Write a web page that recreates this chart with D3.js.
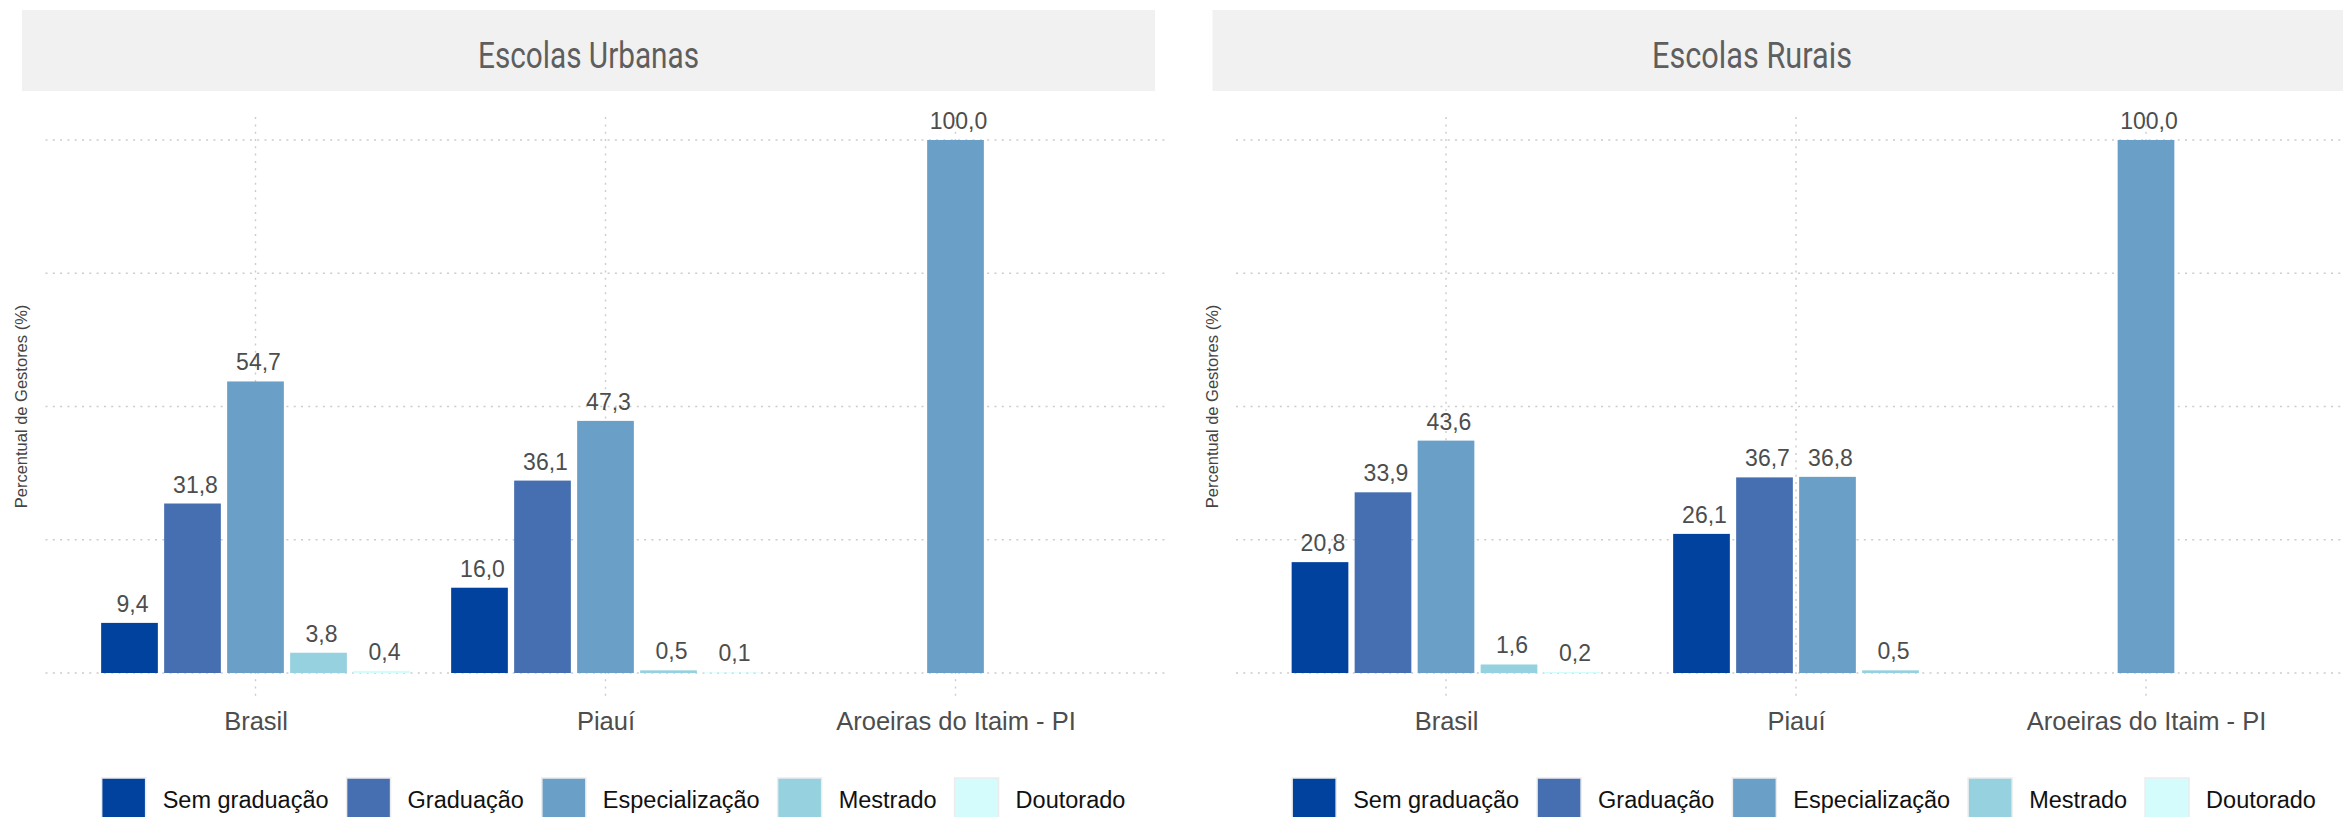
<!DOCTYPE html>
<html><head><meta charset="utf-8">
<script src="https://cdn.jsdelivr.net/npm/d3@7"></script>
<style>
html,body{margin:0;padding:0;background:#fff;}
svg{display:block;}
</style></head>
<body>
<svg id="chart" width="2343" height="817"></svg>
<script>
// ---- data ----
const categories = ["Brasil", "Piauí", "Aroeiras do Itaim - PI"];
const levels = ["Sem graduação", "Graduação", "Especialização", "Mestrado", "Doutorado"];
const levelColors = ["#00429d", "#456fb1", "#6aa0c8", "#96d1df", "#d4fcfc"];
const panelTitles = ["Escolas Urbanas", "Escolas Rurais"];
const yTicks = [0, 25, 50, 75, 100];
// values per category, in the order of levels (null = absent)
const urbanBrasil = [9.4, 31.8, 54.7, 3.8, 0.4];
const urbanPiaui = [16.0, 36.1, 47.3, 0.5, 0.1];
const urbanAroeiras = [null, null, 100.0, null, null];
const ruralBrasil = [20.8, 33.9, 43.6, 1.6, 0.2];
const ruralPiaui = [26.1, 36.7, 36.8, 0.5, null];
const ruralAroeiras = [null, null, 100.0, null, null];
const yAxisTitle = "Percentual de Gestores (%)";

const panelsData = [
  [urbanBrasil, urbanPiaui, urbanAroeiras],
  [ruralBrasil, ruralPiaui, ruralAroeiras]
];

const svg = d3.select("#chart");
const fmt = v => d3.format(".1f")(v).replace(".", ",");

const y = d3.scaleLinear().domain([-5, 105]).range([699.65, 113.35]);
const panelOffsets = [0, 1190.5];
const titleCenters = [588.5, 1752];
const titleLengths = [221, 200];
const legendCenters = [613.5, 1804];

panelsData.forEach((pdata, pi) => {
  const ox = panelOffsets[pi];
  const g = svg.append("g").attr("transform", `translate(${ox},0)`);

  // strip
  g.append("rect").attr("x", 22).attr("y", 10).attr("width", 1133).attr("height", 81)
    .attr("fill", "#f1f1f1");
  svg.append("text").attr("x", titleCenters[pi]).attr("y", 68)
    .attr("text-anchor", "middle")
    .attr("textLength", titleLengths[pi]).attr("lengthAdjust", "spacingAndGlyphs")
    .style("font-family", "Roboto,'Liberation Sans',sans-serif")
    .style("font-weight", 400)
    .style("font-size", "37px").attr("fill", "#5e5e5e")
    .text(panelTitles[pi]);

  const x = d3.scalePoint().domain(categories).range([45.5, 1165.5]).padding(0.6);
  const slot = x.step() * 0.9 / levels.length;
  const barW = slot * 0.9;

  // grid
  const grid = g.append("g");
  grid.selectAll("line.h").data(yTicks).join("line").attr("class", "h")
    .attr("x1", 45.5).attr("x2", 1165.5)
    .attr("y1", d => y(d)).attr("y2", d => y(d))
    .attr("stroke", "#cccccc").attr("stroke-width", 1.4).attr("stroke-dasharray", "2,5.3");
  grid.selectAll("line.v").data(categories).join("line").attr("class", "v")
    .attr("x1", d => x(d)).attr("x2", d => x(d))
    .attr("y1", y(104.3)).attr("y2", y(-5))
    .attr("stroke", "#cccccc").attr("stroke-width", 1.4).attr("stroke-dasharray", "2,5.3");

  // bars
  const bars = [];
  categories.forEach((c, ci) => {
    const vals = pdata[ci];
    const present = vals.map((v, i) => ({v, i})).filter(d => d.v !== null);
    const n = present.length;
    present.forEach((d, k) => {
      const cx = x(c) + (k - (n - 1) / 2) * slot;
      bars.push({cat: c, level: d.i, value: d.v, cx});
    });
  });
  g.append("g").selectAll("rect").data(bars).join("rect")
    .attr("x", d => d.cx - barW / 2).attr("width", barW)
    .attr("y", d => y(d.value)).attr("height", d => y(0) - y(d.value))
    .attr("fill", d => levelColors[d.level]);

  g.append("g").selectAll("text").data(bars).join("text")
    .attr("x", d => d.cx + 3).attr("y", d => y(d.value) - 11)
    .attr("text-anchor", "middle")
    .style("font-family", "'Liberation Sans',Arial,sans-serif")
    .style("font-size", "23px").attr("fill", "#4d4d4d")
    .text(d => fmt(d.value));

  // x axis
  const ax = g.append("g").attr("transform", `translate(0,${y(0)})`)
    .call(d3.axisBottom(x).tickSize(0).tickPadding(0));
  ax.select(".domain").remove();
  ax.selectAll("text").attr("y", 57).attr("dy", 0)
    .style("font-family", "'Liberation Sans',Arial,sans-serif")
    .style("font-size", "25.5px").attr("fill", "#4d4d4d");

  // y axis title
  g.append("text").attr("transform", `translate(27,${(y(0) + y(100)) / 2}) rotate(-90)`)
    .attr("text-anchor", "middle")
    .style("font-family", "'Liberation Sans',Arial,sans-serif")
    .style("font-size", "16.5px").attr("fill", "#444")
    .text(yAxisTitle);

  // legend
  const lg = svg.append("g");
  let lx = 0;
  levels.forEach((lv, i) => {
    const r = lg.append("rect").attr("y", 778).attr("width", 44).attr("height", 44)
      .attr("fill", levelColors[i]).attr("stroke", "#ececec").attr("stroke-width", 1.5);
    const t = lg.append("text").attr("y", 808)
      .style("font-family", "'Liberation Sans',Arial,sans-serif")
      .style("font-size", "23.5px").attr("fill", "#111").text(lv);
    r.attr("x", lx);
    t.attr("x", lx + 61);
    lx += 61 + t.node().getComputedTextLength() + (i < levels.length - 1 ? 18 : 0);
  });
  lg.attr("transform", `translate(${legendCenters[pi] - lx / 2},0)`);
});
</script>
</body></html>
